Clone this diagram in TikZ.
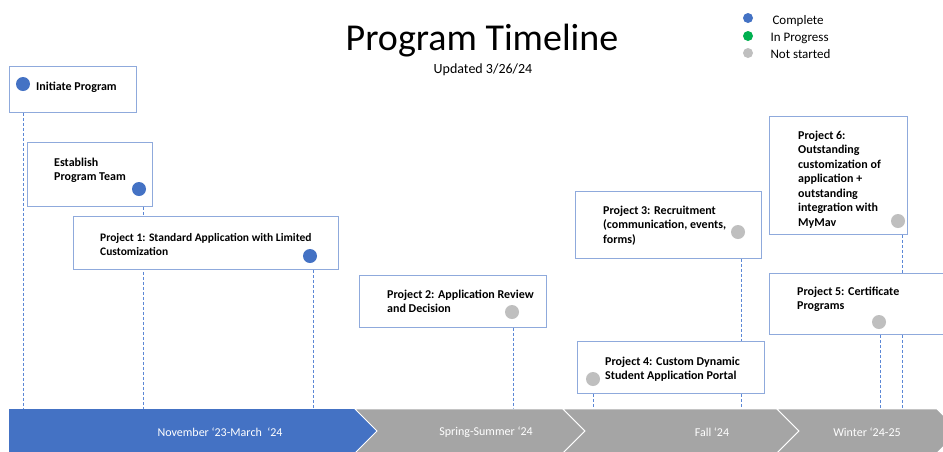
\documentclass[tikz,border=0pt]{standalone}
\usepackage{fontspec}
\setmainfont{Carlito}
\definecolor{doneblue}{HTML}{4472C4}
\definecolor{wipgreen}{HTML}{00B050}
\definecolor{todogray}{HTML}{BFBFBF}
\definecolor{bargray}{HTML}{A5A5A5}
\definecolor{boxline}{HTML}{8FAADC}
\definecolor{guideline}{HTML}{5B87D6}
\begin{document}
\begin{tikzpicture}[x=1pt,y=-1pt,
	tbox/.style={draw=boxline,line width=0.9pt,fill=white,anchor=north west,inner sep=0pt},
	lbl/.style={anchor=base west,align=left,inner sep=0pt,font=\fontsize{12}{14.5}\selectfont\bfseries},
	stdot/.style={circle,inner sep=0pt,minimum size=14pt},
	done/.style={stdot,fill=doneblue},
	todo/.style={stdot,fill=todogray},
	guide/.style={guideline,line width=0.7pt,dash pattern=on 3pt off 2pt},
	chev/.style={draw=white,line width=0.8pt},
	barlbl/.style={white,font=\fontsize{12}{14}\selectfont}]
	\useasboundingbox (0,0) rectangle (943,451);
	% titre + legende
	\node[anchor=base,font=\fontsize{38}{40}\selectfont] (title) at (482,50) {Program Timeline};
	\node[anchor=base,font=\fontsize{14}{16}\selectfont] (upd) at (483,73) {Updated 3/26/24};
	\node[stdot,minimum size=10pt,fill=doneblue] (kdone) at (748,18) {};
	\node[stdot,minimum size=10pt,fill=wipgreen] (kwip) at (748,36) {};
	\node[stdot,minimum size=10pt,fill=todogray] (ktodo) at (748,53) {};
	\node[anchor=base west,font=\fontsize{13}{15}\selectfont] (kdonet) at (769,24) {Complete};
	\node[anchor=base west,font=\fontsize{13}{15}\selectfont] (kwipt) at (767,41) {In Progress};
	\node[anchor=base west,font=\fontsize{13}{15}\selectfont] (ktodot) at (767,58) {Not started};
	% points sur la barre
	\coordinate (ta) at (23,409);
	\coordinate (tb) at (143,409);
	\coordinate (tc) at (313,409);
	\coordinate (td) at (513,409);
	\coordinate (te) at (593,409);
	\coordinate (tf) at (741,409);
	\coordinate (tg) at (880,409);
	\coordinate (th) at (902,409);
	% cases
	\node[tbox,minimum width=127,minimum height=46] (init) at (9,66) {};
	\node[tbox,minimum width=125,minimum height=64] (team) at (27,142) {};
	\node[tbox,minimum width=138,minimum height=118] (proj6) at (769,116) {};
	\node[tbox,minimum width=186,minimum height=67] (proj3) at (575,191) {};
	\node[tbox,minimum width=187,minimum height=52] (proj2) at (359,275) {};
	\draw[guide] (init.south -| ta) -- (ta);
	\draw[guide] (team.south -| tb) -- (tb);
	\draw[guide] (proj2.south -| td) -- (td);
	\draw[guide] (proj3.south -| tf) -- (tf);
	\draw[guide] (proj6.south -| th) -- (th);
	\node[tbox,minimum width=265,minimum height=53] (proj1) at (73,216) {};
	\node[tbox,minimum width=187,minimum height=52] (proj4) at (577,341) {};
	\node[tbox,minimum width=180,minimum height=61] (proj5) at (769,273) {};
	\draw[guide] (proj1.south -| tc) -- (tc);
	\draw[guide] (proj4.south -| te) -- (te);
	\draw[guide] (proj5.south -| tg) -- (tg);
	% textes (base = derniere ligne)
	\node[lbl] (initt) at (36,90) {Initiate Program};
	\node[lbl] (teamt) at (54,180.5) {Establish\\Program Team};
	\node[lbl,font=\fontsize{11.5}{14.5}\selectfont\bfseries] (proj1t) at (100,255.5) {Project 1: Standard Application with Limited\\Customization};
	\node[lbl] (proj2t) at (387,312.5) {Project 2: Application Review\\and Decision};
	\node[lbl] (proj3t) at (603,243) {Project 3: Recruitment\\(communication, events,\\forms)};
	\node[lbl] (proj4t) at (605,379.5) {Project 4: Custom Dynamic\\Student Application Portal};
	\node[lbl] (proj5t) at (797,309.5) {Project 5: Certificate\\Programs};
	\node[lbl] (proj6t) at (798,226) {Project 6:\\Outstanding\\customization of\\application +\\outstanding\\integration with\\MyMav};
	\node[done] (initd) at (23,84) {};
	\node[done] (teamd) at (139,189) {};
	\node[done] (proj1d) at (310,256) {};
	\node[todo] (proj2d) at (512,312) {};
	\node[todo] (proj3d) at (738,232) {};
	\node[todo] (proj4d) at (593,379) {};
	\node[todo] (proj5d) at (879,322) {};
	\node[todo] (proj6d) at (898,221) {};
	% barre
	\fill[doneblue] (9,409) -- (355,409) -- (377,431) -- (355,453) -- (9,453) -- cycle;
	\filldraw[bargray,chev] (355,409) -- (563,409) -- (585,431) -- (563,453) -- (355,453) -- (377,431) -- cycle;
	\filldraw[bargray,chev] (563,409) -- (777,409) -- (799,431) -- (777,453) -- (563,453) -- (585,431) -- cycle;
	\filldraw[bargray,chev] (777,409) -- (937,409) -- (959,431) -- (937,453) -- (777,453) -- (799,431) -- cycle;
	\node[barlbl] (s1) at (220,432) {November ‘23-March \ ‘24};
	\node[barlbl] (s2) at (486,432) {Spring-Summer ‘24};
	\node[barlbl] (s3) at (712,432) {Fall ‘24};
	\node[barlbl] (s4) at (867,432) {Winter ‘24-25};
\end{tikzpicture}
\end{document}
